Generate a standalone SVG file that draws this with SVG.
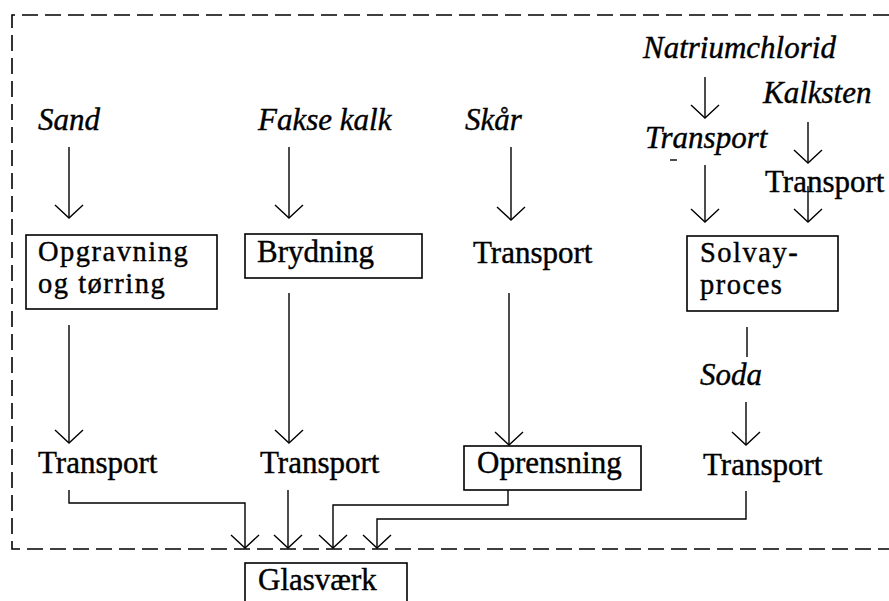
<svg xmlns="http://www.w3.org/2000/svg" width="889" height="601" viewBox="0 0 889 601">
  <style>
    .bg { fill: #ffffff; }
    .frame { fill: none; stroke: #000; stroke-width: 1.6; stroke-dasharray: 16 7; }
    .box { fill: #ffffff; stroke: #000; stroke-width: 1.6; }
    .line { fill: none; stroke: #000; stroke-width: 1.4; }
    .arr { marker-end: url(#vee); }
    .t { font-family: "Liberation Serif", "Times New Roman", serif; font-size: 31px; fill: #000; stroke: #000; stroke-width: 0.4; }
    .i { font-style: italic; }
    .two { font-size: 28.5px; letter-spacing: 1.5px; }
  </style>
  <defs>
    <marker id="vee" markerUnits="userSpaceOnUse" viewBox="-16 -16 18 32" refX="0" refY="0" markerWidth="18" markerHeight="32" orient="auto" overflow="visible">
      <path d="M-13,-14 L0,0 L-13,14" fill="none" stroke="#000" stroke-width="1.4"/>
    </marker>
  </defs>

  <rect class="bg" x="0" y="0" width="889" height="601"/>

  <!-- system boundary (dashed) -->
  <path class="frame" d="M889,15 H12 V549 H889"/>

  <!-- raw materials -->
  <g id="sand"><text class="t i" x="38" y="130">Sand</text></g>
  <g id="fakse-kalk"><text class="t i" x="258" y="130">Fakse kalk</text></g>
  <g id="skaar"><text class="t i" x="465" y="130">Skår</text></g>
  <g id="natriumchlorid"><text class="t i" x="643" y="58">Natriumchlorid</text></g>
  <g id="kalksten"><text class="t i" x="763" y="103">Kalksten</text></g>

  <!-- transports into the Solvay process -->
  <g id="transport-nacl">
    <text class="t i" x="645" y="148">Transport</text>
    <path class="line" d="M670,160 H677"/>
  </g>
  <g id="transport-kalksten"><text class="t" x="765" y="192">Transport</text></g>

  <!-- processing steps -->
  <g id="opgravning">
    <rect class="box" x="26" y="235" width="191" height="74"/>
    <text class="t two" x="38" y="261">Opgravning</text>
    <text class="t two" x="38" y="292.5">og tørring</text>
  </g>
  <g id="brydning">
    <rect class="box" x="245" y="234" width="177" height="44"/>
    <text class="t" x="257" y="262">Brydning</text>
  </g>
  <g id="transport-skaar"><text class="t" x="473" y="263">Transport</text></g>
  <g id="solvay">
    <rect class="box" x="687" y="236" width="151" height="75"/>
    <text class="t two" x="700" y="262">Solvay-</text>
    <text class="t two" x="700" y="293.5">proces</text>
  </g>
  <g id="soda"><text class="t i" x="700" y="385">Soda</text></g>

  <!-- final transports -->
  <g id="transport-sand"><text class="t" x="38" y="473">Transport</text></g>
  <g id="transport-kalk"><text class="t" x="260" y="473">Transport</text></g>
  <g id="oprensning">
    <rect class="box" x="464" y="446" width="177" height="44"/>
    <text class="t" x="477" y="473">Oprensning</text>
  </g>
  <g id="transport-soda"><text class="t" x="703" y="475">Transport</text></g>

  <!-- glassworks -->
  <g id="glasvaerk">
    <rect class="box" x="245" y="563" width="162" height="60"/>
    <text class="t" x="258" y="590">Glasværk</text>
  </g>

  <!-- connectors -->
  <g id="connectors">
    <path class="line arr" d="M69,147 V218"/>
    <path class="line arr" d="M289,147 V218"/>
    <path class="line arr" d="M511,147 V220"/>
    <path class="line arr" d="M705,77 V118"/>
    <path class="line arr" d="M808,122 V163"/>
    <path class="line arr" d="M705,165 V222"/>
    <path class="line arr" d="M808,186 V222"/>
    <path class="line arr" d="M69,325 V443"/>
    <path class="line arr" d="M289,293 V443"/>
    <path class="line arr" d="M509,293 V445"/>
    <path class="line" d="M747,327 V357"/>
    <path class="line arr" d="M746,402 V445"/>
    <path class="line arr" d="M69,490 V503 H245 V548"/>
    <path class="line arr" d="M288,490 V548"/>
    <path class="line arr" d="M508,490 V505 H333 V548"/>
    <path class="line arr" d="M746,491 V519 H377 V548"/>
  </g>
</svg>
